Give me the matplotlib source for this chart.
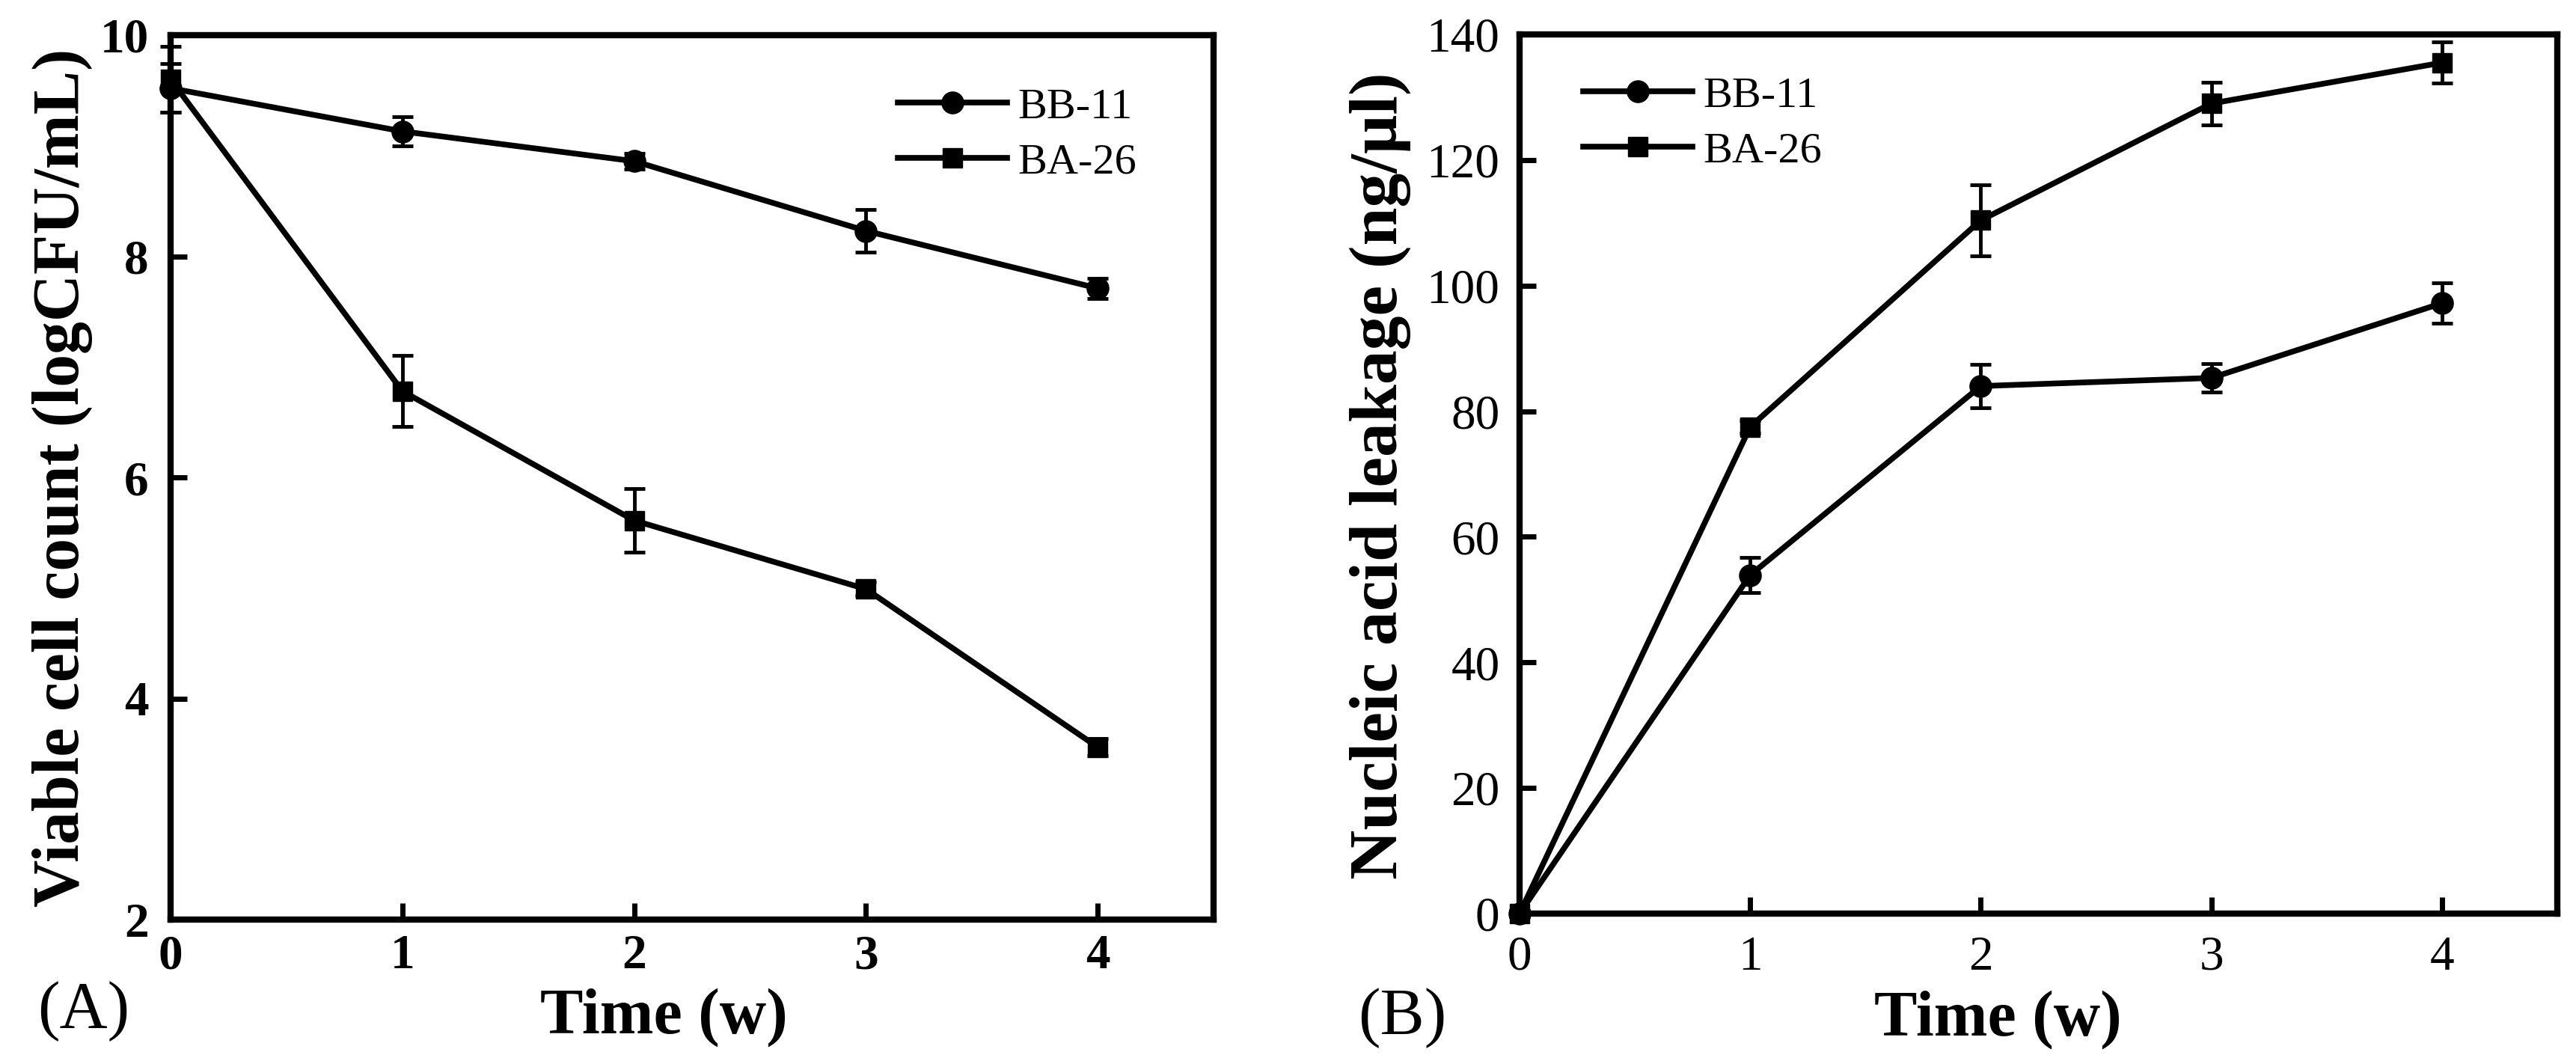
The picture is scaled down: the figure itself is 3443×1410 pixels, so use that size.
import matplotlib
matplotlib.use('Agg')
import matplotlib.pyplot as plt

# data
time = [0, 1, 2, 3, 4]

# (A) viable cell count, logCFU/mL
bb11_count = [9.52, 9.13, 8.86, 8.23, 7.71]
bb11_count_err = [0.22, 0.13, 0.07, 0.19, 0.09]
ba26_count = [9.60, 6.78, 5.61, 4.99, 3.56]
ba26_count_err = [0.30, 0.32, 0.29, 0.06, 0.08]

# (B) nucleic acid leakage, ng/ul
bb11_leak = [0.0, 53.9, 84.0, 85.3, 97.2]
bb11_leak_err = [0.5, 2.8, 3.5, 2.3, 3.2]
ba26_leak = [0.0, 77.5, 110.4, 129.0, 135.5]
ba26_leak_err = [0.5, 1.0, 5.7, 3.4, 3.3]

labels = ['BB-11', 'BA-26']

W, H = 3443, 1410
plt.rcParams['font.family'] = ['Liberation Serif', 'DejaVu Serif']

fig = plt.figure(figsize=(W / 100, H / 100), dpi=100)


def px_axes(x0, y0, x1, y1):
    # axes box given in pixel corners (top-left origin)
    return fig.add_axes([x0 / W, 1 - y1 / H, (x1 - x0) / W, (y1 - y0) / H])


axA = px_axes(228, 47, 1622, 1229)
axB = px_axes(2031, 46, 3418, 1221)

line_kw = dict(color='black', lw=5.5, elinewidth=3.5, capsize=10,
               capthick=3.5, clip_on=False)


def draw(ax, y1, e1, y2, e2):
    c1 = ax.errorbar(time, y1, yerr=e1, marker='o', ms=21, **line_kw)
    c2 = ax.errorbar(time, y2, yerr=e2, marker='s', ms=19, **line_kw)
    for sp in ax.spines.values():
        sp.set_linewidth(6)
    ax.set_xlim(0, 4.5)
    ax.set_xticks(time)
    ax.tick_params(direction='in', length=16, width=5, labelsize=47)
    return [c1[0], c2[0]]  # plain lines for the legend, no error bars


hA = draw(axA, bb11_count, bb11_count_err, ba26_count, ba26_count_err)
axA.set_ylim(2, 10)
axA.set_yticks([2, 4, 6, 8, 10])
axA.tick_params(axis='x', pad=14)
axA.tick_params(axis='y', pad=21)
for t in axA.get_xticklabels() + axA.get_yticklabels():
    t.set_fontweight('bold')

hB = draw(axB, bb11_leak, bb11_leak_err, ba26_leak, ba26_leak_err)
axB.set_ylim(0, 140)
axB.set_yticks(range(0, 141, 20))
axB.tick_params(axis='x', pad=21)
axB.tick_params(axis='y', pad=19)

# legends
leg_kw = dict(loc='upper left', frameon=False, fontsize=42, handlelength=2.5,
              handletextpad=0.25, labelspacing=0.35, borderpad=0,
              borderaxespad=0, bbox_transform=fig.transFigure)
axA.legend(hA, labels, bbox_to_anchor=(1200 / W, 1 - 117 / H), **leg_kw)
axB.legend(hB, labels, bbox_to_anchor=(2116 / W, 1 - 102 / H), **leg_kw)

# axis titles
fig.text(84 / W, 1 - 638 / H, 'Viable cell count (logCFU/mL)', rotation=90,
         ha='center', va='center', fontsize=63, fontweight='bold')
fig.text(1845 / W, 1 - 636 / H, 'Nucleic acid leakage (ng/\u00b5l)', rotation=90,
         ha='center', va='center', fontsize=66, fontweight='bold')
fig.text(887 / W, 1 - 1360 / H, 'Time (w)', ha='center', va='center',
         fontsize=62, fontweight='bold')
fig.text(2670 / W, 1 - 1363 / H, 'Time (w)', ha='center', va='center',
         fontsize=62, fontweight='bold')

# panel letters
fig.text(112 / W, 1 - 1352 / H, '(A)', ha='center', va='center', fontsize=64)
fig.text(1874 / W, 1 - 1361 / H, '(B)', ha='center', va='center', fontsize=64)

fig.savefig('out.png', dpi=100)
